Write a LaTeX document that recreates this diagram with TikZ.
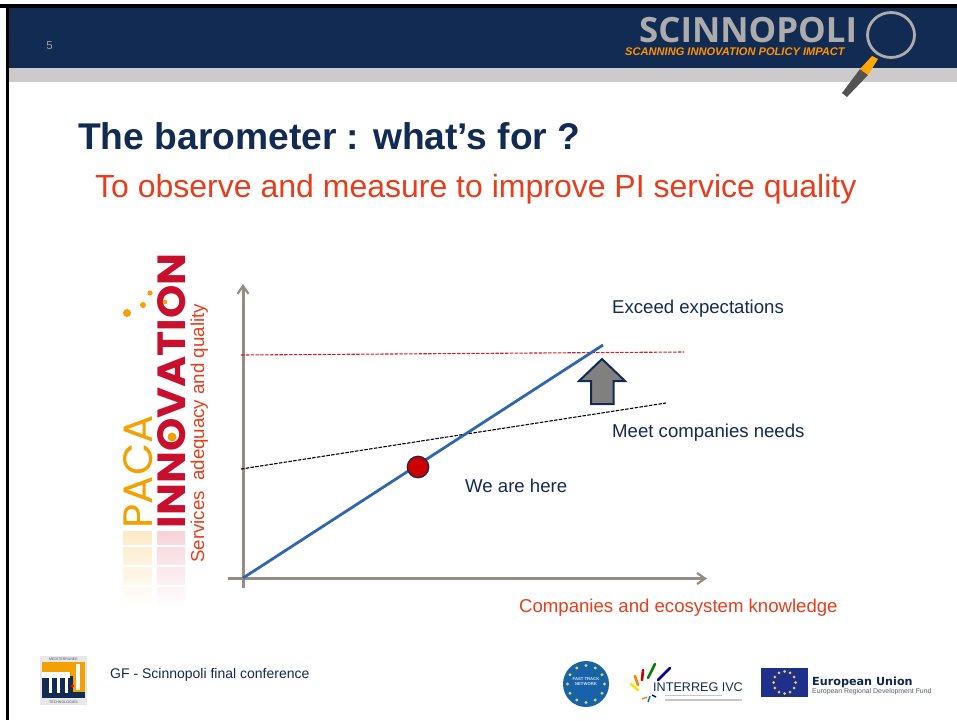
\documentclass[tikz,border=0pt]{standalone}
\usepackage{fontspec}
\setmainfont{Liberation Sans}
\newfontfamily\logofont{Poppins}
\usetikzlibrary{arrows.meta,shapes.arrows}
\definecolor{navy}{HTML}{122B52}
\definecolor{band}{HTML}{CCCACA}
\definecolor{axisc}{HTML}{968C84}
\definecolor{redt}{HTML}{E63E1C}
\definecolor{redl}{HTML}{D0202A}
\definecolor{bluel}{HTML}{2F66AE}
\definecolor{logored}{HTML}{C8102E}
\definecolor{logoor}{HTML}{F2A100}
\definecolor{euyel}{HTML}{E8D24A}
\definecolor{eublue}{HTML}{1F2F8C}
\tikzset{
  lab/.style={anchor=base west,inner sep=0pt,text=navy,font=\fontsize{18.6}{20}\selectfont},
  redlab/.style={anchor=base west,inner sep=0pt,text=redt,font=\fontsize{18.6}{20}\selectfont},
  axisline/.style={draw=axisc,line width=3pt,-{Straight Barb[length=8pt,width=11pt,line width=2.2pt]}},
  dashline/.style={line width=1.1pt,dash pattern=on 3.5pt off 1.3pt},
}
\begin{document}
\begin{tikzpicture}[x=1pt,y=-1pt]
\useasboundingbox (0,0) rectangle (957,720);
\fill[white] (0,0) rectangle (957,720);
% header
\fill[black] (0,4) rectangle (957,7.5);
\fill[black] (6,4) rectangle (8.7,720);
\fill[navy] (8.7,7.5) rectangle (957,68);
\fill[band] (8.7,68) rectangle (957,82);
\node[inner sep=0pt,text=gray!75,font=\fontsize{11.5}{13}\selectfont] (pageno) at (49.5,46) {5};
% scinnopoli logo
\node[inner sep=0pt,anchor=base west,text=gray!65!white,font=\fontsize{34.8}{36}\selectfont\bfseries\fontspec{Open Sans}] (sc) at (639,42.5) {SCINNOPOLI};
\node[inner sep=0pt,anchor=base west,text=orange!85!yellow,font=\fontsize{11.1}{11.5}\selectfont\bfseries\itshape] (sctag) at (625,55.5) {SCANNING INNOVATION POLICY IMPACT};
\fill[gray!65!black] (860,69) -- (868,75) -- (847,97) -- (842,93) -- cycle;
\fill[orange!70!yellow] (872,56) -- (878,59) -- (868,75) -- (860,69) -- cycle;
\draw[gray!65!white,line width=2.8pt] (891,35) ellipse (23.5 and 22.5);
% title
\node[anchor=base west,inner sep=0pt,text=navy,font=\fontsize{37.2}{40}\selectfont\bfseries] (title) at (78,149) {The barometer : what’s for ?};
\node[anchor=base west,inner sep=0pt,text=redt,font=\fontsize{32}{38}\selectfont] (subtitle) at (95,197) {To observe and measure to improve PI service quality};
% reflections
\shade[top color=logoor!22,bottom color=white] (123,531) rectangle (152,608);
\shade[top color=logored!18,bottom color=white] (157,531) rectangle (185,608);
\foreach \yy in {546,566,586} \draw[white,line width=2.5pt] (120,\yy) -- (188,\yy);
% paca innovation logo
\node[rotate=90,anchor=base west,inner sep=0pt,text=logored,font=\logofont\bfseries] (innov) at (185,528.5) {\resizebox{275pt}{28pt}{INNOVATION}};
\node[rotate=90,anchor=base west,inner sep=0pt,text=logoor,font=\logofont] (paca) at (152,528.5) {\resizebox{113pt}{29pt}{PACA}};
\fill[logoor] (127,313) circle (4);
\fill[logoor] (143,305) circle (3);
\fill[logoor] (150,293) circle (2.6);
\fill[logoor] (165,302) circle (2.3);
\fill[logoor] (172,437) circle (4.5);
% axes
\coordinate (o1) at (243,588);
\coordinate (y1) at (243,284);
\coordinate (o2) at (228,578.5);
\coordinate (x1) at (707,578.5);
\coordinate (bs) at (243,578);
\coordinate (be) at (603,345);
\coordinate (rs) at (241,355);
\coordinate (re) at (684,352);
\coordinate (ks) at (241,469);
\coordinate (ke) at (666,403);
\draw[axisline] (o1) -- (y1);
\draw[axisline] (o2) -- (x1);
\draw[redl,dashline] (rs) -- (re);
\draw[black,dashline] (ks) -- (ke);
\draw[bluel,line width=2.8pt] (bs) -- (be);
\node[circle,draw=navy,fill=red!80!black,line width=1.2pt,minimum size=21.5pt,inner sep=0pt] (here) at (418,467) {};
\draw[navy,line width=2pt,fill=gray!100!black] (602,359) -- (625,381) -- (613.5,381) -- (613.5,404) -- (591,404) -- (591,381) -- (579,381) -- cycle;
% labels
\node[lab] (exc) at (612,313) {Exceed expectations};
\node[lab] (meet) at (612,437) {Meet companies needs};
\node[lab] (we) at (465,492) {We are here};
\node[redlab] (know) at (519,612) {Companies and ecosystem knowledge};
\node[rotate=90,anchor=base west,inner sep=0pt,text=redt,font=\fontsize{18.7}{20}\selectfont] (serv) at (204,563) {Services\ \ adequacy and quality};
% footer left logo
\fill[gray!18] (40,656) rectangle (87,705);
\fill[logoor] (42,662) rectangle (85,698);
\fill[navy] (42,676) rectangle (73,698);
\fill[navy] (42,692) rectangle (85,698);
\foreach \xx in {49,57,65} \fill[white] (\xx,678) rectangle (\xx+3,693);
\fill[white] (42,672) rectangle (70,678);
\fill[white] (76,664) rectangle (79.5,690);
\fill[red] (72.5,686) circle (1.9);
\node[inner sep=0pt,text=navy!80,font=\fontsize{3.6}{4}\selectfont] (medi) at (63.5,659.3) {MEDITERRANEE};
\node[inner sep=0pt,text=navy!80,font=\fontsize{3.6}{4}\selectfont] (tech) at (63.5,702) {TECHNOLOGIES};
\node[lab,font=\fontsize{14}{16}\selectfont] (gf) at (110,678) {GF - Scinnopoli final conference};
% fast track
\fill[eublue!75!cyan] (586,684) circle (23);
\foreach \a in {0,30,...,330} \fill[euyel] (586,684) ++(\a:18.5) circle (1.7);
\node[inner sep=0pt,align=center,text=white!85!eublue,font=\fontsize{4.2}{5}\selectfont\bfseries] (ft) at (586,682) {FAST TRACK\\NETWORK};
% interreg
\foreach \xs/\ys/\xe/\ye/\cc in {
  638/690/631/684/yellow!85!orange,
  638/685/635/676/orange,
  642/680/643/670/red!80!black,
  648/678/655/664/green!50!black,
  658/680/670/668/blue!65!black}
  \draw[\cc,line width=2.6pt,line cap=round] (\xs,\ys) -- (\xe,\ye);
\foreach \xs/\ys/\xe/\ye/\cc in {
  647/697/642/699/orange,
  650/696/648/702/teal,
  652/695/656/697/blue!65!black}
  \draw[\cc,line width=1.4pt] (\xs,\ys) -- (\xe,\ye);
\node[anchor=base west,inner sep=0pt,text=navy,font=\fontsize{12.6}{14}\selectfont] (ir) at (653,691) {INTERREG IVC};
\fill[gray!45] (665,694.5) rectangle (722,696);
\fill[gray!45] (665,699) rectangle (742,700.5);
% EU
\fill[eublue] (761,668) rectangle (808,697);
\foreach \a in {0,30,...,330} \fill[euyel] (784.5,682.5) ++(\a:11) circle (1.5);
\node[anchor=base west,inner sep=0pt,text=navy!90!black,font=\fontsize{11.2}{13}\selectfont\bfseries\fontspec{DejaVu Sans}] (eu) at (812,685.5) {European Union};
\node[anchor=base west,inner sep=0pt,text=gray!60!navy,font=\fontsize{6.9}{8}\selectfont] (erdf) at (812,693.5) {European Regional Development Fund};
\end{tikzpicture}
\end{document}
